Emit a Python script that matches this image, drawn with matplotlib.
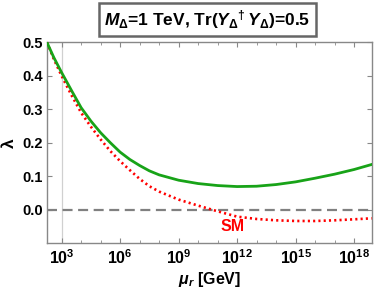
import numpy as np
import matplotlib
matplotlib.use("Agg")
import matplotlib.pyplot as plt
from matplotlib.ticker import FixedLocator, FuncFormatter

# ---- data ----
log_mu_green = [2.25, 2.6, 3.0, 3.5, 4.0, 4.5, 5.0, 5.5, 6.0, 6.5, 7.0, 7.5, 8.0,
                9.0, 10.0, 11.0, 12.0, 13.0, 14.0, 15.0, 16.0, 17.0, 18.0, 18.9]
lam_green = [0.50, 0.455, 0.41, 0.357, 0.305, 0.265, 0.23, 0.20, 0.172, 0.15, 0.132,
             0.116, 0.104, 0.088, 0.078, 0.072, 0.069, 0.070, 0.075, 0.083, 0.094,
             0.106, 0.12, 0.135]
log_mu_sm = [2.25, 2.6, 3.0, 3.5, 4.0, 4.5, 5.0, 5.5, 6.0, 6.5, 7.0, 7.5, 8.0,
             9.0, 10.0, 11.0, 12.0, 13.0, 14.0, 15.0, 16.0, 17.0, 18.0, 18.9]
lam_sm = [0.50, 0.45, 0.40, 0.343, 0.29, 0.248, 0.21, 0.175, 0.145, 0.118, 0.092,
          0.07, 0.054, 0.03, 0.012, -0.005, -0.021, -0.028, -0.032, -0.034, -0.034,
          -0.032, -0.029, -0.026]
x_tick_exps = [3, 6, 9, 12, 15, 18]
y_ticks = [0.0, 0.1, 0.2, 0.3, 0.4, 0.5]
title_text = r"$M_{\mathbf{\Delta}}$=1 TeV, Tr($Y_{\mathbf{\Delta}}{}^{\dagger}\,Y_{\mathbf{\Delta}}$)=0.5"
sm_label = "SM"
sm_label_pos = (11.75, -0.05)
m_delta_log = 3.0

plt.rcParams['font.family'] = ['Liberation Sans', 'DejaVu Sans']
plt.rcParams['font.weight'] = 'bold'
plt.rcParams['mathtext.fontset'] = 'custom'
plt.rcParams['mathtext.rm'] = 'Liberation Sans:bold'
plt.rcParams['mathtext.bf'] = 'Liberation Sans:bold'
plt.rcParams['mathtext.it'] = 'Liberation Sans:bold:italic'
plt.rcParams['mathtext.sf'] = 'Liberation Sans:bold'

fig = plt.figure(figsize=(3.74, 2.89), dpi=100)
ax = fig.add_axes([0.1257, 0.159, 0.869, 0.694])

mu_g = 10.0 ** np.array(log_mu_green)
mu_s = 10.0 ** np.array(log_mu_sm)

ax.axvline(10 ** m_delta_log, color='#d0d0d0', lw=0.9, zorder=1)
ax.axhline(0.0, color='#808080', lw=1.6, dashes=(4.5, 2.5), zorder=2)
ax.plot(mu_s, lam_sm, color='red', lw=1.9, linestyle=(0, (0.8, 1.2)),
        dash_capstyle='butt', zorder=3)
ax.plot(mu_g, lam_green, color='#18a318', lw=2.0, zorder=4)

ax.set_xscale('log')
ax.set_xlim(10 ** 2.25, 10 ** 18.92)
ax.set_ylim(-0.1, 0.5)

ax.xaxis.set_major_locator(FixedLocator([10.0 ** e for e in x_tick_exps]))
ax.xaxis.set_minor_locator(FixedLocator([10.0 ** e for e in range(3, 19)]))
ax.xaxis.set_major_formatter(FuncFormatter(lambda v, p: r"$\mathbf{10^{%d}}$" % round(np.log10(v))))
ax.xaxis.set_minor_formatter(FuncFormatter(lambda v, p: ""))
ax.yaxis.set_major_locator(FixedLocator(y_ticks))
ax.yaxis.set_major_formatter(FuncFormatter(lambda v, p: "%.1f" % v))

ax.tick_params(which='both', direction='in', top=True, right=True, color='#888888')
ax.tick_params(which='major', length=3.5, width=0.8, pad=3)
ax.tick_params(axis='x', which='major', labelsize=11.5, pad=4)
ax.tick_params(axis='y', which='major', labelsize=10.5)
ax.tick_params(which='minor', length=2.5, width=0.6)
for lab in ax.get_yticklabels():
    lab.set_fontweight('bold')
for sp in ax.spines.values():
    sp.set_color('#888888')
    sp.set_linewidth(1.0)

ax.set_xlabel(r"$\mu_r$ [GeV]", fontsize=11.5, fontweight='bold', labelpad=2)
ax.set_ylabel("λ", fontsize=12.5, fontweight='bold')
ax.yaxis.set_label_coords(-0.093, 0.5)

ax.text(10 ** sm_label_pos[0], sm_label_pos[1], sm_label, color='red', fontsize=11.5,
        fontweight='bold', ha='center', va='center')

fig.text(0.555, 0.933, title_text, fontsize=12.5, fontweight='bold', ha='center', va='center',
         bbox=dict(boxstyle='square,pad=0.3', fc='white', ec='#666666', lw=1.8))

fig.savefig("out.png", dpi=100)
